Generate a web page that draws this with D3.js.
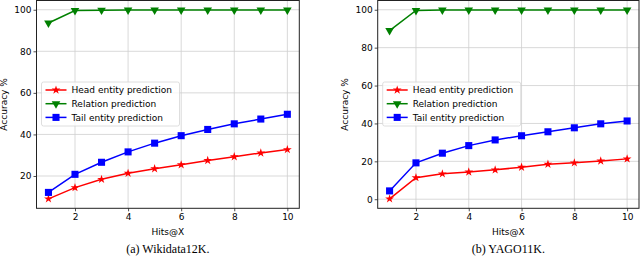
<!DOCTYPE html>
<html lang="en">
<head>
  <meta charset="UTF-8">
  <title>Hits@X accuracy</title>
  <script src="https://d3js.org/d3.v7.min.js"></script>
  <style>
    body { margin: 0; background: #fff; }
    svg { display: block; }
    .tick text { font: 9px "DejaVu Sans", sans-serif; fill: #000; }
    .lbl { font: 9px "DejaVu Sans", sans-serif; fill: #000; }
    .cap { font: 12px "Liberation Serif", serif; fill: #000; }
    .grid line { stroke: #cfcfcf; stroke-width: 0.8px; }
  </style>
</head>
<body>
  <svg id="chart" width="640" height="257"></svg>

  <script>
    // Hits@X values
    const hits = [1, 2, 3, 4, 5, 6, 7, 8, 9, 10];
    const xTicks = [2, 4, 6, 8, 10];

    const wikiHead = [9.0, 14.4, 18.4, 21.3, 23.5, 25.4, 27.5, 29.3, 31.1, 32.7];
    const wikiRel  = [93.6, 99.6, 99.8, 99.9, 99.9, 99.9, 99.9, 99.9, 99.9, 99.9];
    const wikiTail = [12.1, 20.8, 26.6, 31.6, 35.8, 39.4, 42.4, 45.1, 47.4, 49.7];

    const yagoHead = [0.2, 11.4, 13.4, 14.4, 15.5, 16.9, 18.5, 19.2, 20.2, 21.3];
    const yagoRel  = [89.0, 99.6, 99.9, 99.9, 99.9, 99.9, 99.9, 99.9, 99.9, 99.9];
    const yagoTail = [4.4, 19.2, 24.3, 28.3, 31.3, 33.5, 35.6, 37.7, 39.8, 41.3];

    const seriesNames = ["Head entity prediction", "Relation prediction", "Tail entity prediction"];
    const seriesColors = ["#ff0000", "#008000", "#0000ff"];

    const svg = d3.select("#chart");

    const symbols = [
      d3.symbol().type(d3.symbolStar).size(24),
      d3.symbol().type(d3.symbolTriangle).size(32),
      d3.symbol().type(d3.symbolSquare).size(50)
    ];
    const rotations = [0, 180, 0];

    function drawPanel(box, series, yTicks, caption) {
      const g = svg.append("g");

      const allVals = series.flat();
      const lo = d3.min(allVals), hi = d3.max(allVals);
      const pad = (hi - lo) * 0.05;

      const x = d3.scaleLinear().domain([0.55, 10.45]).range([box.left, box.right]);
      const y = d3.scaleLinear().domain([lo - pad, hi + pad]).range([box.bottom, box.top]);

      // grid
      g.append("g").attr("class", "grid")
        .selectAll("line").data(xTicks).join("line")
        .attr("x1", d => x(d)).attr("x2", d => x(d))
        .attr("y1", box.top).attr("y2", box.bottom);
      g.append("g").attr("class", "grid")
        .selectAll("line").data(yTicks).join("line")
        .attr("x1", box.left).attr("x2", box.right)
        .attr("y1", d => y(d)).attr("y2", d => y(d));

      // axes
      const xAxis = g.append("g")
        .attr("transform", `translate(0,${box.bottom})`)
        .call(d3.axisBottom(x).tickValues(xTicks).tickSize(3).tickPadding(2).tickFormat(d3.format("d")));
      const yAxis = g.append("g")
        .attr("transform", `translate(${box.left},0)`)
        .call(d3.axisLeft(y).tickValues(yTicks).tickSize(3).tickPadding(2).tickFormat(d3.format("d")));
      [xAxis, yAxis].forEach(a => {
        a.select(".domain").remove();
        a.selectAll(".tick line").attr("stroke", "#222").attr("stroke-width", 0.8);
        a.attr("font-family", null).attr("font-size", null);
      });

      // frame
      g.append("rect")
        .attr("x", box.left).attr("y", box.top)
        .attr("width", box.right - box.left).attr("height", box.bottom - box.top)
        .attr("fill", "none").attr("stroke", "#222").attr("stroke-width", 1);

      const line = d3.line().x((d, i) => x(hits[i])).y(d => y(d));

      series.forEach((vals, s) => {
        g.append("path")
          .attr("d", line(vals))
          .attr("fill", "none")
          .attr("stroke", seriesColors[s])
          .attr("stroke-width", 1.5);
        g.selectAll(null).data(vals).join("path")
          .attr("d", symbols[s])
          .attr("fill", seriesColors[s])
          .attr("transform", (d, i) => `translate(${x(hits[i])},${y(d)}) rotate(${rotations[s]})`);
      });

      // legend
      const lg = g.append("g").attr("transform", `translate(${box.left + 5},${82})`);
      lg.append("rect")
        .attr("width", 138).attr("height", 44).attr("rx", 2)
        .attr("fill", "#fff").attr("fill-opacity", 0.8)
        .attr("stroke", "#d5d5d5").attr("stroke-width", 0.8);
      seriesNames.forEach((name, s) => {
        const row = lg.append("g").attr("transform", `translate(0,${8 + s * 13.7})`);
        row.append("line")
          .attr("x1", 4).attr("x2", 25)
          .attr("stroke", seriesColors[s]).attr("stroke-width", 1.5);
        row.append("path")
          .attr("d", symbols[s])
          .attr("fill", seriesColors[s])
          .attr("transform", `translate(14.5,0) rotate(${rotations[s]})`);
        row.append("text").attr("class", "lbl")
          .attr("x", 30).attr("dy", "0.35em")
          .text(name);
      });

      // axis labels and caption
      const cx = (box.left + box.right) / 2;
      g.append("text").attr("class", "lbl")
        .attr("x", cx).attr("y", 234.5).attr("text-anchor", "middle")
        .text("Hits@X");
      g.append("text").attr("class", "lbl")
        .attr("transform", `translate(${box.left - 30},${(box.top + box.bottom) / 2}) rotate(-90)`)
        .attr("text-anchor", "middle")
        .text("Accuracy %");
      g.append("text").attr("class", "cap")
        .attr("x", cx).attr("y", 253).attr("text-anchor", "middle")
        .text(caption);
    }

    drawPanel({ left: 36.5, right: 299.3, top: 0.5, bottom: 208.3 },
      [wikiHead, wikiRel, wikiTail], [20, 40, 60, 80, 100], "(a) Wikidata12K.");
    drawPanel({ left: 377.7, right: 639, top: 0.5, bottom: 208.3 },
      [yagoHead, yagoRel, yagoTail], [0, 20, 40, 60, 80, 100], "(b) YAGO11K.");
  </script>
</body>
</html>
